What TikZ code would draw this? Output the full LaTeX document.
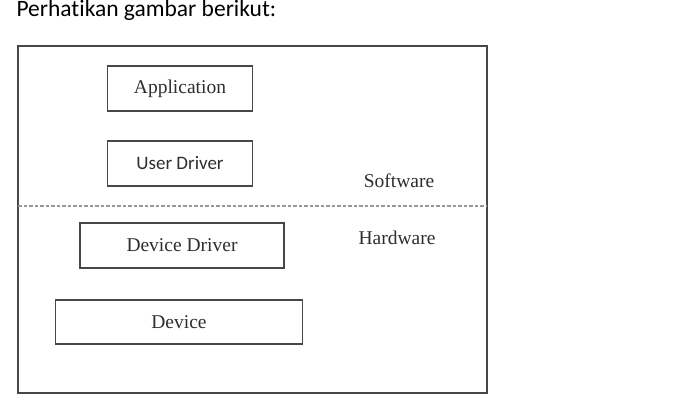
\documentclass[tikz,border=0pt]{standalone}
\usepackage{fontspec}
\setmainfont{Liberation Serif}
\newfontfamily\calfont[Ligatures=NoCommon]{Carlito}
\definecolor{linegray}{HTML}{474747}
\definecolor{textgray}{HTML}{2E2E2E}

\begin{document}
\begin{tikzpicture}[x=1pt,y=-1pt,
  block/.style={rectangle,draw=linegray,line width=1.7pt,minimum height=45pt,
    text=textgray,font=\fontsize{19.5}{23}\selectfont},
  layer/.style={text=textgray,font=\fontsize{19.5}{23}\selectfont}]
\useasboundingbox (0,0) rectangle (674,412);
\node at (13,17) (title) [anchor=base west,font=\calfont\fontsize{23.5}{28}\selectfont] {Perhatikan gambar berikut:};
\draw [draw=linegray,line width=1.8pt] (18,46) rectangle (487,393);
\coordinate (L) at (18,206);
\coordinate (R) at (487,206);
\draw [draw=gray!80,line width=1.1pt,dash pattern=on 3.5pt off 2pt] (L) -- (R);
\node at (180, 88.5) (app) [block,minimum width=145pt] {Application};
\node at (180,163.5) (udrv) [block,minimum width=145pt,font=\calfont\fontsize{19}{23}\selectfont] {User Driver};
\node at (182,245.5) (ddrv) [block,minimum width=204pt] {Device Driver};
\node at (179,322) (dev) [block,minimum width=247pt,minimum height=44pt] {Device};
\node at (399,181) (sw) [layer] {Software};
\node at (397,238) (hw) [layer] {Hardware};
\end{tikzpicture}
\end{document}
